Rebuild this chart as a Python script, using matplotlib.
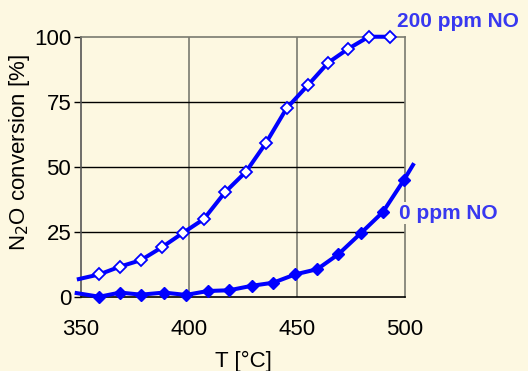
import matplotlib
matplotlib.use("Agg")
import matplotlib.pyplot as plt

plt.rcParams['font.family'] = ['Liberation Sans', 'DejaVu Sans']

# 200 ppm NO series (open diamonds)
t_200 = [349.0, 358.5, 368.1, 377.8, 387.4, 397.1, 406.9, 416.7, 426.4, 435.6,
         445.2, 455.1, 464.4, 473.6, 483.2, 493.1]
v_200 = [6.9, 8.7, 11.7, 14.2, 19.1, 24.6, 30.0, 40.3, 48.2, 59.2,
         72.6, 81.5, 90.1, 95.4, 100.1, 100.1]

# 0 ppm NO series (filled diamonds)
t_0 = [348.0, 358.5, 368.1, 377.8, 388.4, 398.6, 408.7, 418.7, 429.0, 439.0,
       449.2, 459.4, 469.1, 479.5, 489.8, 499.5, 503.7]
v_0 = [1.5, 0.1, 1.7, 0.9, 1.7, 0.8, 2.3, 2.6, 4.3, 5.5,
       8.7, 10.7, 16.4, 24.5, 32.7, 45.0, 50.8]

x_ticks = [350, 400, 450, 500]
y_ticks = [0, 25, 50, 75, 100]
label_200 = "200 ppm NO"
label_0 = "0 ppm NO"

bg = '#FDF8E1'
blue = '#0000FF'
txt_blue = '#3838F0'
fs = 16

fig = plt.figure(figsize=(5.28, 3.71), dpi=100, facecolor=bg)
ax = fig.add_axes([81/528, 1-297/371, (405-81)/528, (297-37)/371])
ax.set_facecolor(bg)

ax.set_xlim(350, 500)
ax.set_ylim(0, 100)

# grid
for xv in x_ticks[1:-1]:
    ax.axvline(xv, color='#7a7a70', lw=1.2, zorder=1)
for yv in y_ticks[1:-1]:
    ax.axhline(yv, color='black', lw=1.0, zorder=1)

ax.plot(t_200, v_200, color=blue, lw=2.9, marker='D', ms=6.5, mfc='white',
        mec=blue, mew=1.3, markevery=list(range(1, len(t_200))), clip_on=False, zorder=4)
ax.plot(t_0, v_0, color=blue, lw=2.9, marker='D', ms=6.5, mfc=blue,
        mec=blue, markevery=list(range(1, len(t_0) - 1)), clip_on=False, zorder=4)

for s in ['top', 'right']:
    ax.spines[s].set_color('#7a7a70')
    ax.spines[s].set_linewidth(1.2)
ax.spines['left'].set_color('#555555')
ax.spines['left'].set_linewidth(1.2)
ax.spines['bottom'].set_color('black')
ax.spines['bottom'].set_linewidth(1.2)

ax.set_xticks(x_ticks)
ax.set_yticks(y_ticks)
ax.tick_params(axis='x', length=0, pad=16, labelsize=fs)
ax.tick_params(axis='y', length=5, direction='out', color='black', width=1.0,
               pad=2, labelsize=fs)
ax.set_xticks([500], minor=True)
ax.tick_params(axis='x', which='minor', length=5, color='#7a7a70', width=1.2)

ax.set_xlabel("T [°C]", fontsize=fs, labelpad=8)
ax.set_ylabel("N$_2$O conversion [%]", fontsize=fs)
ax.yaxis.set_label_coords(-0.15, 0.555)

ax.text(1.163, 1.058, label_200, transform=ax.transAxes, ha='center', va='center',
        color=txt_blue, fontsize=15, fontweight='bold')
ax.text(1.133, 0.323, label_0, transform=ax.transAxes, ha='center', va='center',
        color=txt_blue, fontsize=15, fontweight='bold', zorder=6,
        bbox=dict(facecolor=bg, edgecolor='none', pad=1))

fig.savefig("out.png", dpi=100, facecolor=bg)
